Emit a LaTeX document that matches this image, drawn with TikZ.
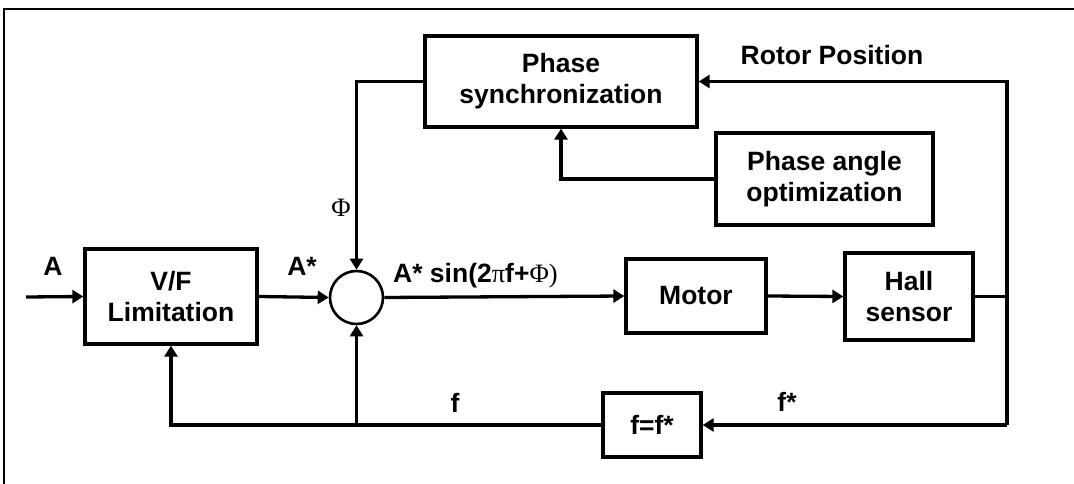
\documentclass[tikz,border=0pt]{standalone}
\usepackage{fontspec}
\setmainfont{Liberation Sans}
\newfontfamily\serif{Liberation Serif}
\usetikzlibrary{arrows.meta}
\begin{document}
\begin{tikzpicture}[x=1pt,y=-1pt,
  every node/.style={font=\fontsize{26.5}{31}\selectfont\bfseries, inner sep=0pt},
  blk/.style={draw, line width=3.3pt, rectangle, align=center},
  conn/.style={line width=3.3pt},
  arr/.style={conn, -{Triangle[length=11pt,width=13pt]}}]
\useasboundingbox (0,0) rectangle (1074,484);
\draw[line width=2.4pt] (4,484) -- (4,9) -- (1074,9);
% blocks
\node[blk, minimum width=172pt, minimum height=95pt] (vf) at (171,296.5) {V/F\\Limitation};
\node[blk, minimum width=272pt, minimum height=91pt] (sync) at (561,81.5) {Phase\\synchronization};
\node[blk, minimum width=217pt, minimum height=92pt] (opt) at (824.5,179) {Phase angle\\optimization};
\node[blk, minimum width=140pt, minimum height=74pt] (motor) at (696,296) {Motor};
\node[blk, minimum width=128pt, minimum height=87pt] (hall) at (909,296.5) {Hall\\sensor};
\node[blk, minimum width=98pt, minimum height=64pt] (ff) at (652,425) {f=f*};
\node[draw, circle, line width=2.6pt, minimum size=53pt] (sum) at (356.5,297.5) {};
% coordinates
\coordinate (in) at (26,297);
\coordinate (rr) at (1007,81.5);
\coordinate (rb) at (1007,425);
% connectors
\draw[arr] (in) -- (vf.west);
\draw[arr] (vf.east) -- (sum.west);
\draw[arr] (sum.east) -- (motor.west);
\draw[arr] (motor.east) -- (hall.west);
\draw[conn] (hall.east) -- (hall.east -| rr);
\draw[arr] (rb) -- (rr) -- (sync.east);
\draw[arr] (rb) -- (ff.east);
\draw[arr] (sync.west) -| (sum.north);
\draw[arr] (opt.west) -| (sync.south);
\draw[arr] (ff.west) -| (vf.south);
\draw[arr] (sum |- ff.west) -- (sum.south);
% labels
\node (lA) at (53,266) {A};
\node (lAs) at (302,266) {A*};
\node[anchor=west] (lsin) at (393,276) {A* sin(2{\serif\mdseries\char"03C0}f+{\serif\mdseries\char"03A6)}};
\node (lphi) at (341,208) {\serif\mdseries\char"03A6};
\node (lf) at (455,403) {f};
\node (lfs) at (787,402) {f*};
\node (lrot) at (832,55) {Rotor Position};
\end{tikzpicture}
\end{document}
